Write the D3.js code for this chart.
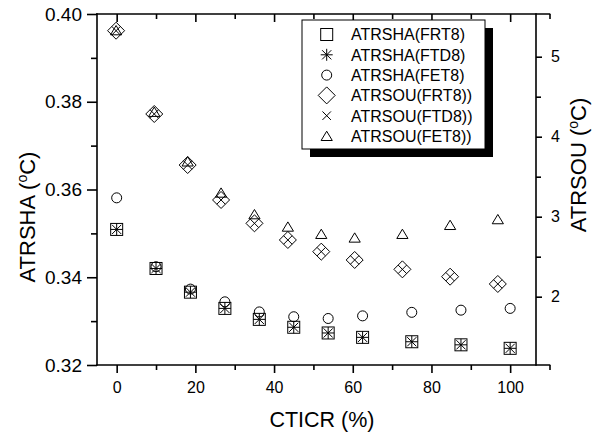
<!DOCTYPE html>
<html><head><meta charset="utf-8">
<script src="https://cdn.jsdelivr.net/npm/d3@7"></script>
<style>body{margin:0;background:#fff}svg text{font-family:Arial,"Liberation Sans",sans-serif;fill:#000}</style>
</head><body><svg id="c" width="593" height="438"></svg>
<script>
const xVals = [0, 10, 18.75, 27.5, 36.25, 45, 53.75, 62.5, 75, 87.5, 100];
const shaFRT8 = [0.3509, 0.3420, 0.3366, 0.3329, 0.3304, 0.3286, 0.3273, 0.3263, 0.3253, 0.3246, 0.3238];
const shaFTD8 = [0.3509, 0.3420, 0.3366, 0.3329, 0.3304, 0.3286, 0.3273, 0.3263, 0.3253, 0.3246, 0.3238];
const shaFET8 = [0.3581, 0.3424, 0.3373, 0.3344, 0.3321, 0.3310, 0.3306, 0.3312, 0.3320, 0.3325, 0.3329];
const souFRT8 = [5.325, 4.284, 3.646, 3.209, 2.917, 2.709, 2.563, 2.459, 2.342, 2.250, 2.159];
const souFTD8 = [5.325, 4.284, 3.646, 3.209, 2.917, 2.709, 2.563, 2.459, 2.342, 2.250, 2.159];
const souFET8 = [5.33, 4.31, 3.69, 3.30, 3.03, 2.875, 2.784, 2.738, 2.784, 2.896, 2.968];
const xTicks = [0, 20, 40, 60, 80, 100];
const xMinor = [10, 30, 50, 70, 90, 110];
const yLTicks = [0.32, 0.34, 0.36, 0.38, 0.40];
const yLMinor = [0.33, 0.35, 0.37, 0.39];
const yRTicks = [2, 3, 4, 5];
const yRMinor = [2.5, 3.5, 4.5];
const legendLabels = ["ATRSHA(FRT8)", "ATRSHA(FTD8)", "ATRSHA(FET8)", "ATRSOU(FRT8))", "ATRSOU(FTD8))", "ATRSOU(FET8))"];

const svg = d3.select("#c");
const L = 97, T = 14, B = 365, RL = 549.5, RR = 536;
const xL = d3.scaleLinear().domain([-5, 110]).range([L, RL]);
const xR = d3.scaleLinear().domain([-5, 110]).range([L, RR]);
const yL = d3.scaleLinear().domain([0.32, 0.40]).range([B, T]);
const yR = d3.scaleLinear().domain([1.146, 5.534]).range([B, T]);

const AX = 1.6;
const FONT = "Arial, 'Liberation Sans', sans-serif";
// bottom axis
svg.append("g").attr("class", "bx").attr("transform", `translate(0,${B})`)
  .call(d3.axisBottom(xL).tickValues(xTicks).tickSize(8).tickPadding(9).tickFormat(d3.format("d")));
svg.append("g").attr("transform", `translate(0,${B})`)
  .call(d3.axisBottom(xL).tickValues(xMinor).tickSize(5).tickFormat(""));
// top axis (inward)
svg.append("g").attr("transform", `translate(0,${T})`)
  .call(d3.axisBottom(xL).tickValues(xTicks).tickSize(8).tickFormat(""));
svg.append("g").attr("transform", `translate(0,${T})`)
  .call(d3.axisBottom(xL).tickValues(xMinor).tickSize(5).tickFormat(""));
// left axis
svg.append("g").attr("class", "ly").attr("transform", `translate(${L},0)`)
  .call(d3.axisLeft(yL).tickValues(yLTicks).tickSize(10).tickPadding(5).tickFormat(d3.format(".2f")));
svg.append("g").attr("transform", `translate(${L},0)`)
  .call(d3.axisLeft(yL).tickValues(yLMinor).tickSize(6).tickFormat(""));
// right axis
svg.append("g").attr("class", "ry").attr("transform", `translate(${RR},0)`)
  .call(d3.axisRight(yR).tickValues(yRTicks).tickSize(6).tickPadding(9).tickFormat(d3.format("d")));
svg.append("g").attr("transform", `translate(${RR},0)`)
  .call(d3.axisRight(yR).tickValues(yRMinor).tickSize(5).tickFormat(""));

svg.selectAll(".domain").remove();
svg.selectAll(".tick line").attr("stroke", "#000").attr("stroke-width", AX);
svg.selectAll(".tick text").attr("font-size", 16).style("font-family", FONT);
svg.selectAll(".ly .tick text").attr("font-size", 19);
// frame lines
const frame = [[L, B, RL, B], [L, T, RL, T], [L, T, L, B], [RR, T, RR, B]];
svg.append("g").selectAll("line").data(frame).join("line")
  .attr("x1", d => d[0]).attr("y1", d => d[1]).attr("x2", d => d[2]).attr("y2", d => d[3])
  .attr("stroke", "#000").attr("stroke-width", AX).attr("stroke-linecap", "square");

// marker painters
const S = {
  square: (g) => g.append("rect").attr("x", -6).attr("y", -6).attr("width", 12).attr("height", 12),
  star: (g) => g.append("path").attr("d", "M0,-6V6M-6,0H6M-4.6,-4.6L4.6,4.6M-4.6,4.6L4.6,-4.6"),
  circle: (g) => g.append("circle").attr("r", 5),
  diamond: (g) => g.append("path").attr("d", "M0,-8.5L8.5,0L0,8.5L-8.5,0Z"),
  cross: (g) => g.append("path").attr("d", "M-4.25,-4.25L4.25,4.25M-4.25,4.25L4.25,-4.25"),
  triangle: (g) => g.append("path").attr("d", "M0,-4.8L5.6,4.5L-5.6,4.5Z")
};
const series = [
  {vals: shaFRT8, x: xL, y: yL, m: "square"},
  {vals: shaFTD8, x: xL, y: yL, m: "star"},
  {vals: shaFET8, x: xL, y: yL, m: "circle"},
  {vals: souFRT8, x: xR, y: yR, m: "diamond"},
  {vals: souFTD8, x: xR, y: yR, m: "cross"},
  {vals: souFET8, x: xR, y: yR, m: "triangle"}
];
series.forEach(s => {
  xVals.forEach((xv, i) => {
    const g = svg.append("g").attr("transform", `translate(${s.x(xv)},${s.y(s.vals[i])})`)
      .attr("fill", "none").attr("stroke", "#000").attr("stroke-width", 1);
    S[s.m](g);
  });
});

// legend
const lg = svg.append("g");
lg.append("rect").attr("x", 310).attr("y", 28).attr("width", 183).attr("height", 129).attr("fill", "#000");
lg.append("rect").attr("x", 302).attr("y", 20).attr("width", 183).attr("height", 129)
  .attr("fill", "#fff").attr("stroke", "#000").attr("stroke-width", 1);
const rowY = d3.scaleLinear().domain([0, 5]).range([34.5, 136]);
series.forEach((s, i) => {
  const g = lg.append("g").attr("transform", `translate(326.7,${rowY(i)})`)
    .attr("fill", "none").attr("stroke", "#000").attr("stroke-width", 1);
  S[s.m](g);
  lg.append("text").attr("x", 351).attr("y", rowY(i) + 5.8).attr("font-size", 16).text(legendLabels[i]);
});

// axis titles
svg.append("text").attr("x", 322).attr("y", 427).attr("text-anchor", "middle").attr("font-size", 21.5).text("CTICR (%)");
function yTitle(x, cy, label) {
  const t = svg.append("text").attr("transform", `translate(${x},${cy}) rotate(-90)`).attr("text-anchor", "middle").attr("font-size", 22);
  t.append("tspan").text(label + " (");
  t.append("tspan").attr("font-size", 14).attr("dy", -8).text("o");
  t.append("tspan").attr("dy", 8).text("C)");
}
yTitle(35, 217, "ATRSHA");
yTitle(586, 165, "ATRSOU");
</script></body></html>
